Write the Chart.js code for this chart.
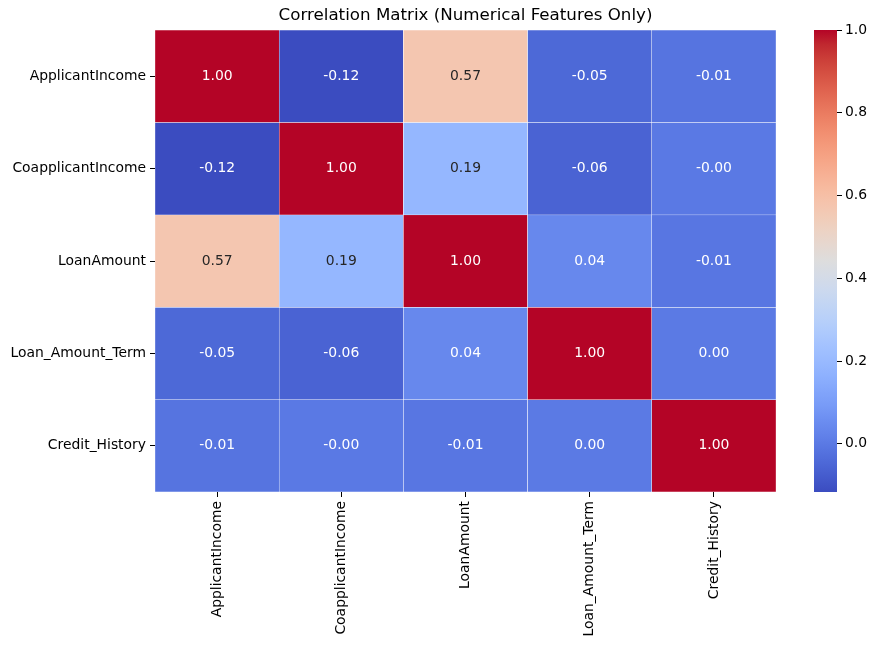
<!DOCTYPE html>
<html>
<head>
<meta charset="utf-8">
<script src="https://cdn.jsdelivr.net/npm/chart.js@4.4.0/dist/chart.umd.min.js"></script>
<style>
    body { margin: 0; background: #ffffff; }
    #wrap { position: relative; width: 879px; height: 647px; }
    #heatmap { position: absolute; left: 0; top: 0; }
    #colorbar { position: absolute; left: 800px; top: 0; }
</style>
</head>
<body>
<div id="wrap">
    <canvas id="heatmap" width="879" height="647"></canvas>
    <canvas id="colorbar" width="79" height="647"></canvas>
</div>
<script>
const features = ['ApplicantIncome', 'CoapplicantIncome', 'LoanAmount', 'Loan_Amount_Term', 'Credit_History'];

const rowApplicantIncome   = [1.0, -0.1166, 0.5709, -0.0453, -0.0147];
const rowCoapplicantIncome = [-0.1166, 1.0, 0.1886, -0.0599, -0.0021];
const rowLoanAmount        = [0.5709, 0.1886, 1.0, 0.0394, -0.0084];
const rowLoanAmountTerm    = [-0.0453, -0.0599, 0.0394, 1.0, 0.0015];
const rowCreditHistory     = [-0.0147, -0.0021, -0.0084, 0.0015, 1.0];
const matrix = [rowApplicantIncome, rowCoapplicantIncome, rowLoanAmount, rowLoanAmountTerm, rowCreditHistory];

const colorbarTicks = [0, 0.2, 0.4, 0.6, 0.8, 1.0];

const vmin = Math.min(...matrix.flat());
const vmax = Math.max(...matrix.flat());

// matplotlib coolwarm, sampled
const coolwarm = [
    [59, 76, 192], [68, 90, 204], [77, 104, 215], [87, 117, 225], [98, 130, 234],
    [108, 142, 241], [120, 155, 247], [130, 165, 251], [141, 176, 254], [152, 185, 255],
    [162, 193, 255], [173, 201, 253], [184, 208, 249], [194, 213, 244], [204, 217, 238],
    [213, 219, 230], [221, 221, 221], [229, 216, 209], [236, 211, 197], [241, 204, 184],
    [245, 196, 173], [247, 187, 160], [247, 176, 148], [246, 165, 135], [244, 154, 123],
    [241, 141, 111], [236, 127, 99], [229, 112, 88], [222, 96, 77], [213, 80, 66],
    [203, 62, 56], [192, 40, 47], [180, 4, 38]
];

function cmap(t) {
    t = Math.max(0, Math.min(1, t));
    const p = t * (coolwarm.length - 1);
    const i = Math.min(Math.floor(p), coolwarm.length - 2);
    const f = p - i;
    const a = coolwarm[i], b = coolwarm[i + 1];
    return [0, 1, 2].map(k => Math.round(a[k] + (b[k] - a[k]) * f));
}

function colorFor(v) {
    const c = cmap((v - vmin) / (vmax - vmin));
    return 'rgb(' + c.join(',') + ')';
}

function textColorFor(v) {
    const c = cmap((v - vmin) / (vmax - vmin)).map(x => {
        x = x / 255;
        return x <= 0.03928 ? x / 12.92 : Math.pow((x + 0.055) / 1.055, 2.4);
    });
    const lum = 0.2126 * c[0] + 0.7152 * c[1] + 0.0722 * c[2];
    return lum > 0.408 ? '#262626' : '#ffffff';
}

const fontFamily = "'DejaVu Sans', sans-serif";
const fontSize = 13.9;

const annotatePlugin = {
    id: 'annotate',
    afterDatasetsDraw(chart) {
        const { ctx } = chart;
        ctx.save();
        ctx.font = fontSize + 'px ' + fontFamily;
        ctx.textAlign = 'center';
        ctx.textBaseline = 'middle';
        chart.data.datasets.forEach((ds, r) => {
            chart.getDatasetMeta(r).data.forEach((el, c) => {
                const v = matrix[r][c];
                ctx.fillStyle = textColorFor(v);
                ctx.fillText(v.toFixed(2), el.x, (el.y + el.base) / 2);
            });
        });
        ctx.restore();
    }
};

const heatCtx = document.getElementById('heatmap').getContext('2d');
const heatmapChart = new Chart(heatCtx, {
    type: 'bar',
    data: {
        labels: features,
        datasets: matrix.map((row, r) => ({
            label: features[r],
            data: row.map(() => [r, r + 1]),
            backgroundColor: row.map(colorFor),
            borderColor: '#ffffff',
            borderWidth: 0.5,
            borderSkipped: false,
            grouped: false,
            barPercentage: 1,
            categoryPercentage: 1
        }))
    },
    options: {
        responsive: false,
        animation: false,
        layout: { padding: { left: 0, right: 103, top: 0, bottom: 0 } },
        plugins: {
            legend: { display: false },
            tooltip: { enabled: false },
            title: {
                display: true,
                fullSize: false,
                text: 'Correlation Matrix (Numerical Features Only)',
                color: '#000000',
                font: { family: fontFamily, size: 16.7, weight: 'normal', lineHeight: 1.2 },
                padding: { top: 6, bottom: 4 }
            }
        },
        scales: {
            x: {
                offset: true,
                border: { display: false },
                grid: { offset: false, drawOnChartArea: false, drawTicks: true, tickLength: 5, color: '#000000' },
                ticks: {
                    color: '#000000',
                    font: { family: fontFamily, size: fontSize },
                    maxRotation: 90,
                    minRotation: 90,
                    padding: 4
                },
                afterFit(scale) { scale.height = 155; }
            },
            y: {
                min: 0,
                max: features.length,
                reverse: true,
                border: { display: false },
                grid: { drawOnChartArea: false, drawTicks: true, tickLength: 5, color: '#000000' },
                afterBuildTicks(scale) {
                    scale.ticks = features.map((_, i) => ({ value: i + 0.5 }));
                },
                ticks: {
                    color: '#000000',
                    font: { family: fontFamily, size: fontSize },
                    padding: 4,
                    autoSkip: false,
                    callback: (value, index) => features[index]
                },
                afterFit(scale) { scale.width = 155; }
            }
        }
    },
    plugins: [annotatePlugin]
});

const cbCtx = document.getElementById('colorbar').getContext('2d');
const colorbarChart = new Chart(cbCtx, {
    type: 'bar',
    data: {
        labels: [''],
        datasets: [{
            data: [[vmin, vmax]],
            backgroundColor(context) {
                const chart = context.chart;
                const area = chart.chartArea;
                if (!area) return null;
                const y = chart.scales.y;
                const g = chart.ctx.createLinearGradient(0, y.getPixelForValue(vmin), 0, y.getPixelForValue(vmax));
                coolwarm.forEach((c, i) => {
                    g.addColorStop(i / (coolwarm.length - 1), 'rgb(' + c.join(',') + ')');
                });
                return g;
            },
            borderWidth: 0,
            barPercentage: 1,
            categoryPercentage: 1
        }]
    },
    options: {
        responsive: false,
        animation: false,
        layout: { padding: { left: 14, right: 0, top: 30, bottom: 155 } },
        plugins: { legend: { display: false }, tooltip: { enabled: false } },
        scales: {
            x: { display: false },
            y: {
                position: 'right',
                min: vmin,
                max: vmax,
                border: { display: false },
                grid: { drawOnChartArea: false, drawTicks: true, tickLength: 5, color: '#000000' },
                afterBuildTicks(scale) {
                    scale.ticks = colorbarTicks.map(v => ({ value: v }));
                },
                ticks: {
                    color: '#000000',
                    font: { family: fontFamily, size: fontSize },
                    padding: 3,
                    callback: v => v.toFixed(1)
                },
                afterFit(scale) { scale.width = 42; }
            }
        }
    }
});
</script>
</body>
</html>
